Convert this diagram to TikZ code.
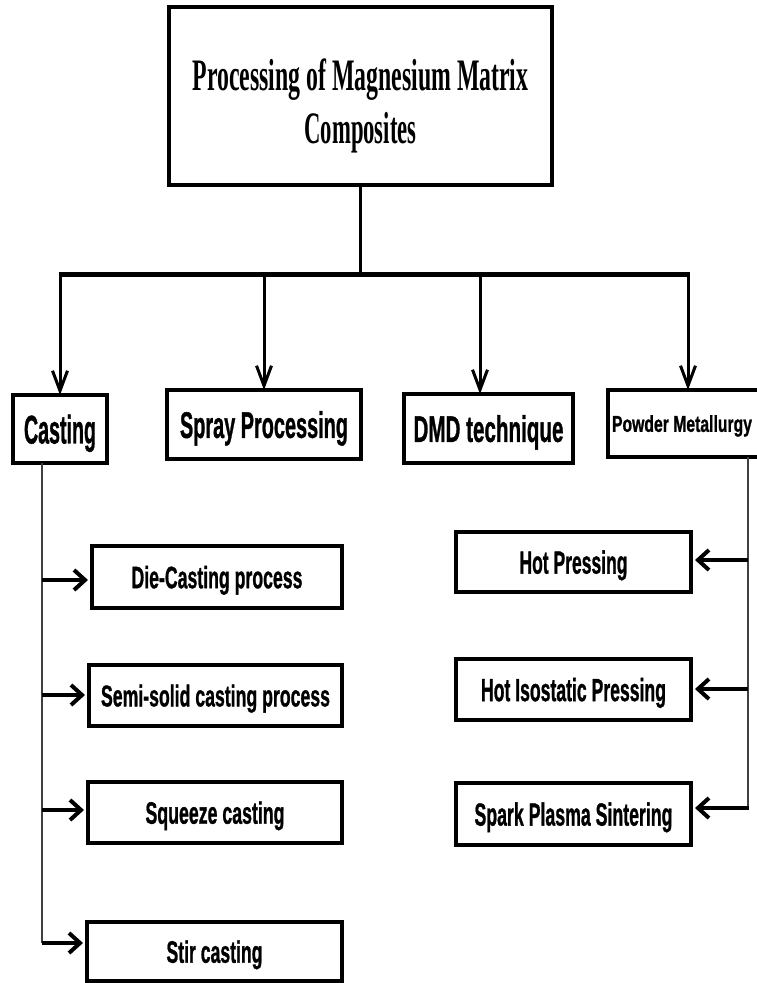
\documentclass[tikz,border=0pt]{standalone}
\usepackage{fontspec}
\usepackage{graphicx}
\usetikzlibrary{arrows.meta}
\newfontfamily\boxsans{Liberation Sans}[BoldFeatures={FakeBold=1.2}]
\newfontfamily\titleserif{Liberation Serif}
\newcommand\fittext[3]{{\fontsize{#1}{#1}\selectfont\resizebox{#2pt}{\height}{#3}}}
\begin{document}
\begin{tikzpicture}[x=1pt,y=-1pt,
  box/.style={draw, line width=4pt, inner sep=0pt, text depth=0pt, font=\boxsans\bfseries},
  bar/.style={line width=5pt},
  down/.style={line width=3pt, -{Straight Barb[length=20pt,width=15pt]}},
  side/.style={line width=4pt, -{Straight Barb[length=11pt,width=20pt]}},
  rail/.style={line width=2pt, draw=black!75}]
\clip (0,0) rectangle (757,983);
% title
\node[box, minimum width=383pt, minimum height=178pt, text height=0pt, text depth=0pt,
      font=\titleserif\bfseries\fontsize{45}{53}\selectfont] (top) at (360.5,96)
  {\raisebox{-17pt}{\begin{tabular}{@{}c@{}}\resizebox{336pt}{\height}{Processing of Magnesium Matrix}\\
   \resizebox{112pt}{\height}{Composites}\end{tabular}}};
% level 1
\node[box, minimum width=94pt, minimum height=68pt] (cast) at (60,429) {\fittext{40}{72}{Casting}};
\node[box, minimum width=194pt, minimum height=69pt] (spray) at (264,424.5) {\fittext{37}{168}{Spray Processing}};
\node[box, minimum width=169pt, minimum height=69pt] (dmd) at (488.5,428.5) {\fittext{37}{150}{DMD technique}};
\node[box, minimum width=162pt, minimum height=67pt] (pm) at (689,423.5) {\hspace*{-14pt}\fittext{23}{140}{Powder Metallurgy}};
% casting children
\node[box, minimum width=250pt, minimum height=62pt] (die) at (217,577) {\fittext{31}{171}{Die-Casting process}};
\node[box, minimum width=253pt, minimum height=61pt] (semi) at (215.5,695.5) {\fittext{30}{229}{Semi-solid casting process}};
\node[box, minimum width=254pt, minimum height=61pt] (squeeze) at (215,812.5) {\fittext{31}{139}{Squeeze casting}};
\node[box, minimum width=255pt, minimum height=59pt] (stir) at (214.5,951.5) {\fittext{31}{96}{Stir casting}};
% powder metallurgy children
\node[box, minimum width=235pt, minimum height=60pt] (hp) at (573.5,562) {\fittext{32}{108}{Hot Pressing}};
\node[box, minimum width=235pt, minimum height=61pt] (hip) at (573.5,689.5) {\fittext{32}{185}{Hot Isostatic Pressing}};
\node[box, minimum width=235pt, minimum height=62pt] (sps) at (573.5,814) {\fittext{32}{198}{Spark Plasma Sintering}};
% trunk and bar
\coordinate (b1) at (60,274);
\coordinate (b2) at (264,274);
\coordinate (b3) at (480,274);
\coordinate (b4) at (688,274);
\draw[line width=3.5pt] (top.south) -- (top.south |- b1);
\draw[bar] ([xshift=-1.5pt]b1) -- ([xshift=1.5pt]b4);
\draw[down] (b1) -- ([yshift=-2pt]cast.north);
\draw[down] (b2) -- ([yshift=-2pt]spray.north);
\draw[down] (b3) -- ([yshift=-2pt]b3 |- dmd.north);
\draw[down] (b4) -- ([yshift=-2pt]b4 |- pm.north);
% casting rail
\coordinate (c0) at (42,463);
\coordinate (c1) at (42,580);
\coordinate (c2) at (42,695);
\coordinate (c3) at (42,810);
\coordinate (c4) at (42,943);
\draw[rail] (c0) -- (c4);
\draw[side] (c1) -- ([xshift=-2pt]c1 -| die.west);
\draw[side] (c2) -- ([xshift=-2pt]c2 -| semi.west);
\draw[side] (c3) -- ([xshift=-2pt]c3 -| squeeze.west);
\draw[side] (c4) -- ([xshift=-2pt]c4 -| stir.west);
% powder rail
\coordinate (q0) at (748,457);
\coordinate (q1) at (748,560);
\coordinate (q2) at (748,689);
\coordinate (q3) at (748,808);
\draw[rail] (q0) -- (q3);
\draw[side] (q1) -- ([xshift=2pt]q1 -| hp.east);
\draw[side] (q2) -- ([xshift=2pt]q2 -| hip.east);
\draw[side] ([xshift=1pt]q3) -- ([xshift=2pt]q3 -| sps.east);
\end{tikzpicture}
\end{document}
